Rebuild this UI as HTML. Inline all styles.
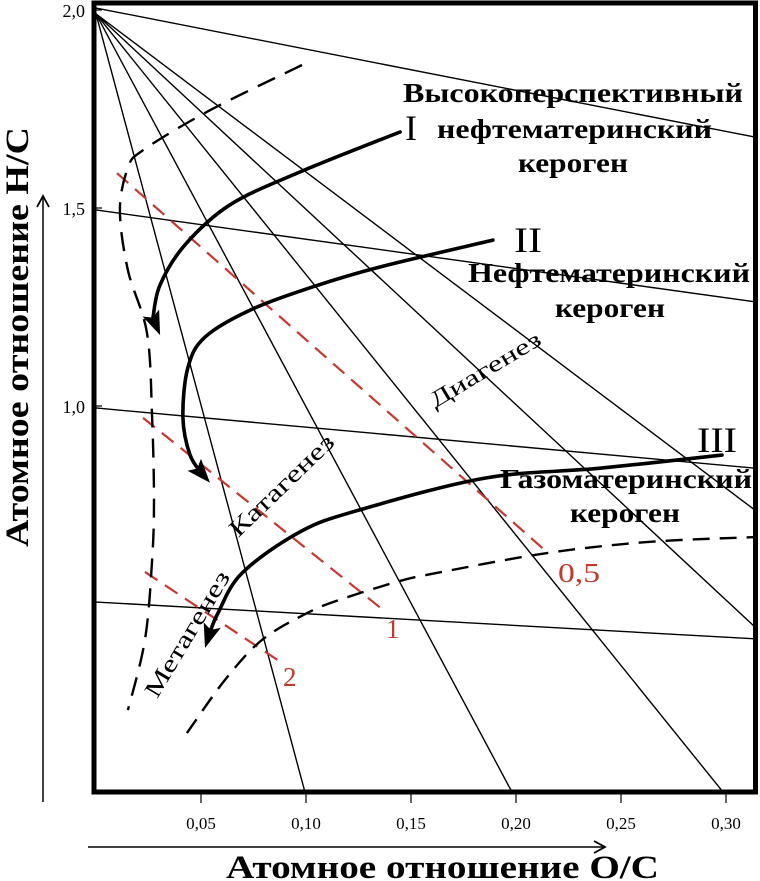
<!DOCTYPE html>
<html><head><meta charset="utf-8"><style>
html,body{margin:0;padding:0;background:#fff}
svg{display:block}
text{font-family:"Liberation Serif","Noto Serif CJK SC",serif}
.b{font-weight:bold}
</style></head><body>
<svg id="chart" width="760" height="881" viewBox="0 0 760 881" xmlns="http://www.w3.org/2000/svg">
<g id="grid"></g>
<g id="series"></g>
<rect x="94" y="3" width="661.5" height="789" fill="none" stroke="#000" stroke-width="5"/>
<g id="axes"></g>
<g>
<text class="b" x="403" y="102" font-size="27" textLength="340" lengthAdjust="spacingAndGlyphs">Высокоперспективный</text>
<text class="b" x="437" y="138" font-size="27" textLength="275" lengthAdjust="spacingAndGlyphs">нефтематеринский</text>
<text class="b" x="518" y="172" font-size="27" textLength="110" lengthAdjust="spacingAndGlyphs">кероген</text>
<text class="b" x="468" y="282" font-size="27" textLength="282" lengthAdjust="spacingAndGlyphs">Нефтематеринский</text>
<text class="b" x="555" y="317" font-size="27" textLength="110" lengthAdjust="spacingAndGlyphs">кероген</text>
<text class="b" x="500" y="488" font-size="27" textLength="252" lengthAdjust="spacingAndGlyphs">Газоматеринский</text>
<text class="b" x="570" y="522" font-size="27" textLength="110" lengthAdjust="spacingAndGlyphs">кероген</text>
<text x="405" y="140" font-size="36">I</text>
<text x="514" y="252" font-size="36" textLength="28" lengthAdjust="spacingAndGlyphs">II</text>
<text x="697" y="452" font-size="36" textLength="40" lengthAdjust="spacingAndGlyphs">III</text>
<text x="0" y="0" font-size="23" text-anchor="middle" textLength="126" lengthAdjust="spacingAndGlyphs" transform="translate(489,376) rotate(-31)">Диагенез</text>
<text x="0" y="0" font-size="24" text-anchor="middle" textLength="136" lengthAdjust="spacingAndGlyphs" transform="translate(287,491) rotate(-44)">Катагенез</text>
<text x="0" y="0" font-size="24" text-anchor="middle" textLength="143" lengthAdjust="spacingAndGlyphs" transform="translate(194,638) rotate(-59)">Метагенез</text>
<text x="558" y="582" font-size="27" fill="#c0392b" textLength="42" lengthAdjust="spacingAndGlyphs">0,5</text>
<text x="386" y="638" font-size="27" fill="#c0392b">1</text>
<text x="283" y="686" font-size="27" fill="#c0392b">2</text>
</g>
<g>
<line x1="43" y1="802" x2="43" y2="198" stroke="#000" stroke-width="1.5"/>
<path d="M37 207 L43 196 L49 207" fill="none" stroke="#000" stroke-width="1.8"/>
<line x1="88" y1="847" x2="604" y2="847" stroke="#000" stroke-width="1.5"/>
<path d="M594 841 L605 847 L594 853" fill="none" stroke="#000" stroke-width="1.8"/>
<text class="b" x="226" y="878" font-size="33" textLength="433" lengthAdjust="spacingAndGlyphs">Атомное отношение О/С</text>
<text class="b" x="0" y="0" font-size="33" textLength="420" lengthAdjust="spacingAndGlyphs" transform="translate(28,547) rotate(-90)">Атомное отношение H/C</text>
</g>
</svg>
<script>
// ---- data ----
const xTicks = [0.05, 0.10, 0.15, 0.20, 0.25, 0.30];
const xTickLabels = ["0,05", "0,10", "0,15", "0,20", "0,25", "0,30"];
const yTicks = [2.0, 1.5, 1.0];
const yTickLabels = ["2,0", "1,5", "1,0"];
// fan lines from origin (O/C, H/C) to end
const fanStart = [0, 1.99];
const topLineStart = [0, 2.005];
const topLineEnd = [0.3138, 1.679];
const fanEndsOC = [0.3138, 0.3138, 0.2986, 0.1981, 0.0995];
const fanEndsHC = [0.737, 0.442, 0.025, 0.025, 0.025];
// iso lines (near-horizontal)
const isoStartHC = [1.495, 0.995, 0.505];
const isoEndHC = [1.263, 0.843, 0.412];
const isoEndOC = 0.3138;
// kerogen evolution paths
const path1OC = [0.1448, 0.0971, 0.0638, 0.0424, 0.0305, 0.0271];
const path1HC = [1.692, 1.591, 1.508, 1.407, 1.306, 1.222];
const path1Tip = [0.0305, 1.179];
const path2OC = [0.189, 0.1352, 0.1033, 0.0733, 0.0519, 0.0438, 0.0414, 0.0448, 0.0510];
const path2HC = [1.419, 1.351, 1.301, 1.242, 1.174, 1.098, 0.972, 0.876, 0.826];
const path2Tip = [0.0543, 0.806];
const path3OC = [0.2981, 0.24, 0.1852, 0.1252, 0.0971, 0.0695, 0.0581, 0.0543];
const path3HC = [0.876, 0.843, 0.818, 0.737, 0.682, 0.578, 0.477, 0.429];
const path3Tip = [0.0519, 0.389];
// boundary dashed curves
const leftBoundOC = [0.0981, 0.0543, 0.0224, 0.0152, 0.0114, 0.0152, 0.0243, 0.0267, 0.0276, 0.0267, 0.0233, 0.0152];
const leftBoundHC = [1.861, 1.747, 1.646, 1.601, 1.495, 1.343, 1.184, 0.972, 0.763, 0.611, 0.409, 0.232];
const lowBoundOC = [0.0433, 0.0614, 0.079, 0.1005, 0.1157, 0.1433, 0.1619, 0.2152, 0.2638, 0.3138];
const lowBoundHC = [0.174, 0.308, 0.409, 0.477, 0.510, 0.556, 0.578, 0.629, 0.657, 0.669];
// vitrinite reflectance iso-lines (0.5, 1, 2)
const roNames = ["0-5", "1", "2"];
const roStartOC = [0.010, 0.0224, 0.0233];
const roStartHC = [1.588, 0.970, 0.581];
const roEndOC = [0.2152, 0.1367, 0.0886];
const roEndHC = [0.629, 0.485, 0.351];

// ---- scales ----
const X = v => 96 + v * 2100;
const Y = v => 10 + (2 - v) * 396;
const NS = "http://www.w3.org/2000/svg";
function mk(parent, tag, attrs) {
  const e = document.createElementNS(NS, tag);
  for (const k in attrs) e.setAttribute(k, attrs[k]);
  parent.appendChild(e);
  return e;
}
function smooth(xs, ys) {
  const p = xs.map((x, i) => [X(x), Y(ys[i])]);
  let d = "M" + p[0][0].toFixed(1) + " " + p[0][1].toFixed(1);
  for (let i = 0; i < p.length - 1; i++) {
    const p0 = p[i - 1] || p[i], p1 = p[i], p2 = p[i + 1], p3 = p[i + 2] || p2;
    const c1 = [p1[0] + (p2[0] - p0[0]) / 6, p1[1] + (p2[1] - p0[1]) / 6];
    const c2 = [p2[0] - (p3[0] - p1[0]) / 6, p2[1] - (p3[1] - p1[1]) / 6];
    d += " C" + c1.map(v => v.toFixed(1)).join(" ") + " " + c2.map(v => v.toFixed(1)).join(" ") + " " + p2[0].toFixed(1) + " " + p2[1].toFixed(1);
  }
  return d;
}
const grid = document.getElementById("grid");
const series = document.getElementById("series");
const axes = document.getElementById("axes");

// top line
let el = mk(grid, "line", {x1: X(topLineStart[0]), y1: Y(topLineStart[1]), x2: X(topLineEnd[0]), y2: Y(topLineEnd[1]), stroke: "#000", "stroke-width": 1.4});


fanEndsOC.forEach((oc, i) => {
  const l = mk(grid, "line", {x1: X(fanStart[0]), y1: Y(fanStart[1]), x2: X(oc), y2: Y(fanEndsHC[i]), stroke: "#000", "stroke-width": 1.4});
  
  
});
isoStartHC.forEach((h, i) => {
  const l = mk(grid, "line", {x1: X(0), y1: Y(h), x2: X(isoEndOC), y2: Y(isoEndHC[i]), stroke: "#000", "stroke-width": 1.4});
  
  
});
// red reflectance lines
roStartOC.forEach((oc, i) => {
  const l = mk(series, "line", {x1: X(oc), y1: Y(roStartHC[i]), x2: X(roEndOC[i]), y2: Y(roEndHC[i]), stroke: "#c8372d", "stroke-width": 2.2, "stroke-dasharray": "15 9"});
  
  
});
// dashed boundaries
el = mk(series, "path", {d: smooth(leftBoundOC, leftBoundHC), fill: "none", stroke: "#000", "stroke-width": 2.4, "stroke-dasharray": "19 11"});


el = mk(series, "path", {d: smooth(lowBoundOC, lowBoundHC), fill: "none", stroke: "#000", "stroke-width": 2.4, "stroke-dasharray": "17 10"});


// kerogen paths with arrowheads
[[path1OC, path1HC, path1Tip, "kerogen-path-1"], [path2OC, path2HC, path2Tip, "kerogen-path-2"], [path3OC, path3HC, path3Tip, "kerogen-path-3"]].forEach(([xs, ys, tip, name]) => {
  const p = mk(series, "path", {d: smooth(xs, ys), fill: "none", stroke: "#000", "stroke-width": 3.6, "stroke-linecap": "round"});
  
  
  const n = xs.length - 1;
  const bx = X(xs[n]), by = Y(ys[n]), tx = X(tip[0]), ty = Y(tip[1]);
  let dx = tx - bx, dy = ty - by; const len = Math.hypot(dx, dy); dx /= len; dy /= len;
  const L = 24, W = 9;
  const ex = tx - dx * L, ey = ty - dy * L;
  const pts = [[tx, ty], [ex - dy * W, ey + dx * W], [ex + dx * 5, ey + dy * 5], [ex + dy * W, ey - dx * W]];
  const a = mk(series, "polygon", {points: pts.map(q => q[0].toFixed(1) + "," + q[1].toFixed(1)).join(" "), fill: "#000"});
  
  
});
// axis ticks
xTicks.forEach((v, i) => {
  const t = mk(axes, "line", {x1: X(v), y1: 794, x2: X(v), y2: 803, stroke: "#000", "stroke-width": 1.2});
  
  
  const lb = mk(axes, "text", {x: X(v), y: 829, "font-size": 17, "text-anchor": "middle"});
  lb.textContent = xTickLabels[i];
  
  
});
yTicks.forEach((v, i) => {
  const t = mk(axes, "line", {x1: 96, y1: Y(v), x2: 102, y2: Y(v), stroke: "#000", "stroke-width": 1.2});
  
  
  const lb = mk(axes, "text", {x: 85, y: Y(v) + 7, "font-size": 18, "text-anchor": "end"});
  lb.textContent = yTickLabels[i];
  
  
});
</script>
</body></html>
